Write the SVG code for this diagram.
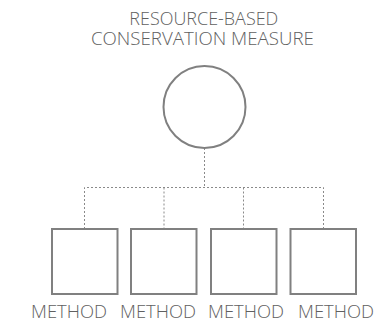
<svg xmlns="http://www.w3.org/2000/svg" width="377" height="325" viewBox="0 0 377 325">
  <style>
    .shape { fill: #ffffff; stroke: #808080; stroke-width: 2; }
    .link { fill: none; stroke: #8a8a8a; stroke-width: 1; stroke-dasharray: 2 2; }
    .label { font-family: "Open Sans", "Liberation Sans", sans-serif; font-weight: 300; font-size: 17.5px; fill: #606060; text-anchor: middle; }
  </style>
  <rect width="377" height="325" fill="#ffffff"/>

  <!-- dotted tree connectors -->
  <g id="connectors">
    <path class="link" d="M204.5 148 V187.5"/>
    <path class="link" d="M84.5 229 V187.5 H323.5 V229"/>
    <path class="link" d="M164 187.5 V229"/>
    <path class="link" d="M243.5 187.5 V229"/>
  </g>

  <g id="measure">
    <text class="label" x="203.8" y="25" textLength="149" lengthAdjust="spacingAndGlyphs">RESOURCE-BASED</text>
    <text class="label" x="202.4" y="45" textLength="223" lengthAdjust="spacingAndGlyphs">CONSERVATION MEASURE</text>
    <circle class="shape" cx="204.5" cy="107" r="41"/>
  </g>

  <g id="method-1">
    <rect class="shape" x="52" y="229" width="65.5" height="65"/>
    <text class="label" x="69" y="318.3" textLength="76" lengthAdjust="spacingAndGlyphs">METHOD</text>
  </g>
  <g id="method-2">
    <rect class="shape" x="131" y="229" width="65.5" height="65"/>
    <text class="label" x="158" y="318.3" textLength="76" lengthAdjust="spacingAndGlyphs">METHOD</text>
  </g>
  <g id="method-3">
    <rect class="shape" x="211" y="229" width="65.5" height="65"/>
    <text class="label" x="246" y="318.3" textLength="76" lengthAdjust="spacingAndGlyphs">METHOD</text>
  </g>
  <g id="method-4">
    <rect class="shape" x="290.5" y="229" width="65.5" height="65"/>
    <text class="label" x="336" y="318.3" textLength="76" lengthAdjust="spacingAndGlyphs">METHOD</text>
  </g>
</svg>
